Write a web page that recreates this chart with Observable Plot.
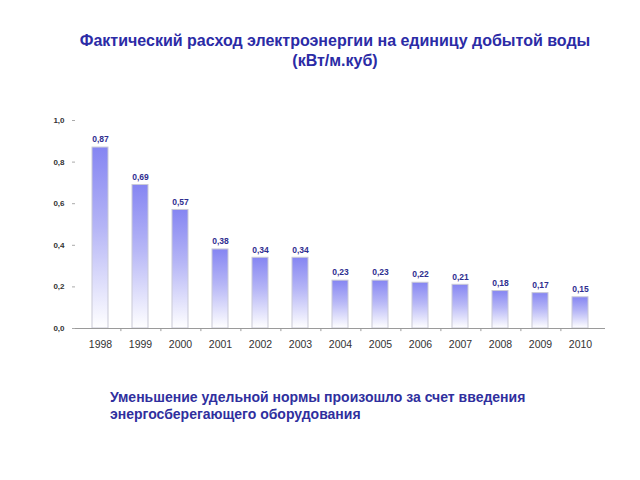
<!DOCTYPE html>
<html><head><meta charset="utf-8">
<script src="https://cdn.jsdelivr.net/npm/d3@7"></script>
<script src="https://cdn.jsdelivr.net/npm/@observablehq/plot@0.6"></script>
<style>
body{margin:0;background:#fff;font-family:"Liberation Sans",Arial,sans-serif;}
#wrap{position:relative;width:640px;height:480px;}
#title{position:absolute;left:30px;width:610px;top:31px;text-align:center;font-weight:bold;font-size:16px;line-height:20px;color:#2b2ba6;}
#chart{position:absolute;left:0;top:90px;}
#caption{position:absolute;left:110px;top:389px;font-weight:bold;font-size:14px;line-height:17px;color:#2f2f9e;}
</style></head>
<body><div id="wrap">
<div id="title">Фактический расход электроэнергии на единицу добытой воды<br>(кВт/м.куб)</div>
<div id="chart"></div>
<div id="caption">Уменьшение удельной нормы произошло за счет введения<br>энергосберегающего оборудования</div>
</div>
<script>
const years = ["1998","1999","2000","2001","2002","2003","2004","2005","2006","2007","2008","2009","2010"];
const values = [0.87,0.69,0.57,0.38,0.34,0.34,0.23,0.23,0.22,0.21,0.18,0.17,0.15];
const yTicks = [0,0.2,0.4,0.6,0.8,1.0];

const data = years.map((y,i)=>({year:y, value:values[i]}));
const fmt = v => d3.format(".2f")(v).replace(".", ",");
const fmtY = v => d3.format(".1f")(v).replace(".", ",");

const W = 640, ML = 75, MR = 35, PI = 0.6, PO = 0.3;
const step = (W - ML - MR) / (years.length - PI + 2 * PO);

const plot = Plot.plot({
  width: W, height: 280,
  marginLeft: ML, marginRight: MR, marginTop: 30, marginBottom: 42,
  style: {fontFamily: "Liberation Sans, Arial, sans-serif", background: "transparent"},
  x: {domain: years, paddingInner: PI, paddingOuter: PO, label: null},
  y: {domain: [0, 1], ticks: yTicks, label: null},
  marks: [
    Plot.barY(data, {x: "year", y: "value", fill: "url(#barGrad)", stroke: "#c9c9d6", strokeWidth: 1}),
    Plot.ruleY([0], {stroke: "#9a9a9a"}),
    Plot.ruleX(years.slice(0, -1), {x: d => d, y1: 0, y2: -0.015, dx: step / 2, stroke: "#9a9a9a"}),
    Plot.text(data, {x: "year", y: "value", text: d => fmt(d.value), dy: -8, fill: "#2e2e8f", fontSize: 8.5, fontWeight: "bold"}),
    Plot.axisX({tickSize: 0, tickPadding: 12, fontSize: 10.5, fill: "#333", label: null}),
    Plot.axisY({ticks: yTicks, tickFormat: fmtY, tickSize: 3, tickPadding: 8, stroke: "#aaa", fontSize: 8, fontWeight: "bold", fill: "#333", label: null})
  ]
});
const svgNS = "http://www.w3.org/2000/svg";
const defs = document.createElementNS(svgNS, "defs");
defs.innerHTML = '<linearGradient id="barGrad" x1="0" y1="0" x2="0" y2="1"><stop offset="0" stop-color="#8585f2"/><stop offset="0.45" stop-color="#b6b6f6"/><stop offset="1" stop-color="#ffffff"/></linearGradient>';
plot.insertBefore(defs, plot.firstChild);
document.getElementById("chart").appendChild(plot);
</script>
</body></html>
